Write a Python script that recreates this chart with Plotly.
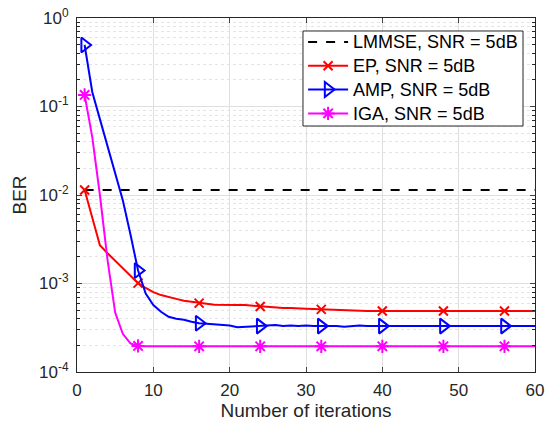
import plotly.graph_objects as go

iters = list(range(1, 61))
marker_iters = [1, 8, 16, 24, 32, 40, 48, 56]

lmmse_ber = [0.0114] * 60

ep_ber = [0.0114, 0.0056, 0.0027, 0.0022, 0.0018, 0.0015, 0.00122, 0.00101, 0.00089, 0.00080,
          0.00074, 0.00071, 0.00067, 0.00064, 0.00062, 0.00060, 0.00059, 0.000575, 0.00057, 0.00057,
          0.00057, 0.00057, 0.00056, 0.00055, 0.000545, 0.00054, 0.00053, 0.00053, 0.00052, 0.00052,
          0.000515, 0.00051, 0.00051, 0.00050, 0.00050, 0.000495, 0.000495, 0.00049, 0.00049, 0.00049,
          0.00049, 0.00049, 0.00049, 0.00049, 0.00049, 0.00049, 0.00049, 0.00049, 0.00049, 0.00049,
          0.00049, 0.00049, 0.00049, 0.00049, 0.00049, 0.00049, 0.00049, 0.00049, 0.00049, 0.00049]

amp_ber = [0.495, 0.146, 0.072, 0.036, 0.0177, 0.0087, 0.0036, 0.0014, 0.00077, 0.00057,
           0.00048, 0.00042, 0.00040, 0.00039, 0.00037, 0.000355, 0.00035, 0.000345, 0.00034, 0.000335,
           0.00032, 0.000325, 0.00033, 0.00033, 0.000335, 0.00034, 0.00033, 0.000335, 0.00033, 0.000335,
           0.00033, 0.00033, 0.000335, 0.00033, 0.000325, 0.00033, 0.000335, 0.00033, 0.00033, 0.00033,
           0.00033, 0.000335, 0.00033, 0.00033, 0.00033, 0.00033, 0.00033, 0.00033, 0.00033, 0.00033,
           0.00033, 0.00033, 0.00033, 0.00033, 0.00033, 0.00033, 0.00033, 0.00033, 0.00033, 0.00033]

iga_ber = [0.135, 0.045, 0.010, 0.00185, 0.00047, 0.00027, 0.00021, 0.000197, 0.000196, 0.000196,
           0.000195, 0.000195, 0.000195, 0.000195, 0.000195, 0.000195, 0.000195, 0.000195, 0.000195, 0.000195,
           0.000195, 0.000195, 0.000195, 0.000195, 0.000195, 0.000195, 0.000195, 0.000195, 0.000195, 0.000195,
           0.000195, 0.000195, 0.000195, 0.000195, 0.000195, 0.000195, 0.000195, 0.000195, 0.000195, 0.000195,
           0.000195, 0.000195, 0.000195, 0.000195, 0.000195, 0.000195, 0.000195, 0.000195, 0.000195, 0.000195,
           0.000195, 0.000195, 0.000195, 0.000195, 0.000195, 0.000195, 0.000195, 0.000195, 0.000195, 0.000195]

names = ["LMMSE, SNR = 5dB", "EP, SNR = 5dB", "AMP, SNR = 5dB", "IGA, SNR = 5dB"]
x_ticks = [0, 10, 20, 30, 40, 50, 60]
y_ticks = [1e-4, 1e-3, 1e-2, 1e-1, 1e0]
y_ticktext = ["10<sup>-4</sup>", "10<sup>-3</sup>", "10<sup>-2</sup>", "10<sup>-1</sup>", "10<sup>0</sup>"]

FONT = "Liberation Sans, Arial, sans-serif"
AX = "#262626"


def leg(t):
    return '<span style="font-size:18px">' + t + "</span>"


fig = go.Figure()

series = [
    (ep_ber, "#ff0000", "x-thin-open", 9),
    (amp_ber, "#0000ff", "triangle-right-open", 13),
    (iga_ber, "#ff00ff", "asterisk-open", 11),
]

fig.add_trace(go.Scatter(x=iters, y=lmmse_ber, mode="lines", name=leg(names[0]),
                         line=dict(color="black", width=2, dash="dash")))

for (vals, col, sym, sz), nm in zip(series, names[1:]):
    fig.add_trace(go.Scatter(x=iters, y=vals, mode="lines", showlegend=False,
                             line=dict(color=col, width=2)))
    my = [vals[i - 1] for i in marker_iters]
    fig.add_trace(go.Scatter(x=marker_iters, y=my, mode="markers", showlegend=False,
                             marker=dict(symbol=sym, size=sz, color=col,
                                         line=dict(color=col, width=2))))
    fig.add_trace(go.Scatter(x=[None], y=[None], mode="lines+markers", name=leg(nm),
                             line=dict(color=col, width=2),
                             marker=dict(symbol=sym, size=sz, color=col,
                                         line=dict(color=col, width=2))))

minor_vals = [m * 10 ** e for e in range(-4, 0) for m in range(2, 10)]

# legend frame (drawn as a box behind the borderless legend)
fig.add_shape(type="rect", xref="paper", yref="paper",
              x0=0.4934, x1=0.9738, y0=0.6949, y1=0.9633, layer="above",
              fillcolor="white", line=dict(color=AX, width=1))

fig.update_layout(
    width=545, height=423,
    margin=dict(l=77, r=10, t=18, b=51),
    paper_bgcolor="white", plot_bgcolor="white",
    font=dict(family=FONT, size=17, color=AX),
    showlegend=True,
    legend=dict(x=0.974, y=0.980, xanchor="right", yanchor="top",
                bgcolor="rgba(0,0,0,0)", borderwidth=0,
                font=dict(family=FONT, size=16, color="black"),
                itemwidth=40, tracegroupgap=0),
    xaxis=dict(range=[0, 60], tickvals=x_ticks, ticks="inside", ticklen=5,
               showline=True, linecolor=AX, linewidth=1, mirror="ticks",
               showgrid=True, gridcolor="#dfdfdf", gridwidth=1, zeroline=False,
               automargin=False, ticklabelstandoff=3,
               title=dict(text="Number of iterations", font=dict(size=19), standoff=4),
               tickfont=dict(size=17)),
    yaxis=dict(type="log", range=[-4, 0], tickvals=y_ticks, ticktext=y_ticktext,
               ticks="inside", ticklen=5,
               showline=True, linecolor=AX, linewidth=1, mirror="ticks",
               showgrid=True, gridcolor="#dfdfdf", gridwidth=1, zeroline=False,
               automargin=False, ticklabelstandoff=4,
               title=dict(text="BER", font=dict(size=19), standoff=7),
               tickfont=dict(size=17),
               minor=dict(tickvals=minor_vals, ticks="inside", ticklen=3, tickcolor=AX,
                          showgrid=True, gridcolor="#e4e4e4", griddash="dot", gridwidth=1)),
)

fig.write_html("out.html", config={"displayModeBar": False},
               post_script="document.body.style.margin='0';document.body.style.padding='0';")
